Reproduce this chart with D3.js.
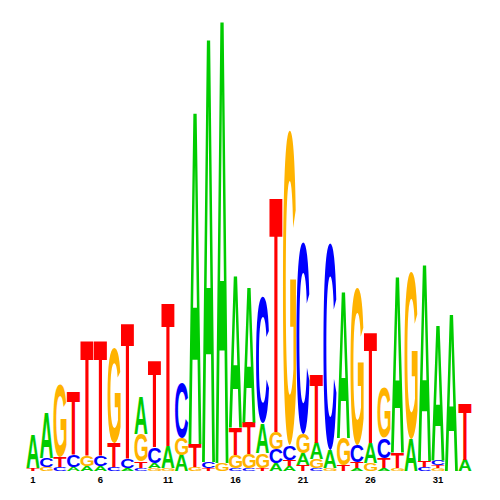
<!DOCTYPE html>
<html><head><meta charset="utf-8">
<script src="https://cdn.jsdelivr.net/npm/d3@7"></script>
<style>html,body{margin:0;padding:0;background:#fff;}</style>
</head><body>
<svg id="chart" width="500" height="500"></svg>
<script>
const positions = d3.range(1, 34);
// information content (bits) per base at each position
const A = [0.148,0.196,0,0.017,0.022,0.022,0,0.013,0.161,0.022,0.096,0.070,1.461,1.865,1.948,0.665,0.596,0.130,0.035,0.022,0.052,0.070,0.078,0.643,0.013,0.087,0.013,0.774,0.139,0.865,0.596,0.691,0.048];
const C = [0,0.039,0.017,0.052,0,0.048,0.017,0.039,0.013,0.070,0,0.239,0,0.026,0,0.013,0.013,0.548,0.061,0.065,0.835,0.013,0.900,0,0.074,0,0.087,0,0,0.017,0.022,0,0];
const G = [0,0.017,0.313,0,0.048,0,0.413,0,0.117,0.013,0.013,0.074,0.017,0,0.035,0.057,0.061,0.065,0.074,1.370,0.083,0.039,0.013,0.117,0.683,0.035,0.217,0.013,0.726,0,0.013,0,0];
const T = [0.013,0,0.043,0.274,0.500,0.500,0.104,0.591,0.030,0.378,0.626,0,0.100,0.013,0,0.117,0.139,0.013,1.030,0.026,0.026,0.300,0,0.026,0.026,0.483,0.043,0.065,0,0.026,0.013,0,0.248];
const tickLabels = ["1","6","11","16","21","26","31"];
const bases = ["A","C","G","T"];
const baseValues = {A, C, G, T};
const colors = {A:"#00cc00", C:"#0000ff", G:"#ffb300", T:"#ff0000"};

const svg = d3.select("#chart");
const x = d3.scaleBand().domain(positions).range([26.25, 471.75]).paddingInner(0.03).paddingOuter(0.015);
const y = d3.scaleLinear().domain([0, 2]).range([471, 11]);

const FONT = '"Liberation Sans", Arial, sans-serif';
const ctx = document.createElement("canvas").getContext("2d");
ctx.font = 'bold 100px "Liberation Sans"';
const metrics = {};
bases.forEach(b => {
  const m = ctx.measureText(b);
  metrics[b] = {left: m.actualBoundingBoxLeft, right: m.actualBoundingBoxRight,
                asc: m.actualBoundingBoxAscent, desc: m.actualBoundingBoxDescent};
});

const stacks = positions.map((p, i) => {
  const letters = bases.map(b => ({b, v: baseValues[b][i]})).filter(d => d.v > 0)
    .sort((a, b2) => a.v - b2.v);
  let cum = 0;
  letters.forEach(d => { d.y0 = cum; cum += d.v; d.y1 = cum; d.pos = p; });
  return letters;
});

const g = svg.append("g");
const w = x.bandwidth();
stacks.forEach(letters => {
  letters.forEach(d => {
    const m = metrics[d.b];
    const x0 = x(d.pos);
    const yb = y(d.y0);
    const h = y(d.y0) - y(d.y1);
    const sx = w / (m.left + m.right);
    const sy = h / (m.asc + m.desc);
    g.append("text")
      .text(d.b)
      .attr("font-family", FONT)
      .attr("font-weight", "bold")
      .attr("font-size", 100)
      .attr("fill", colors[d.b])
      .attr("transform", `translate(${x0 + m.left * sx},${yb - m.desc * sy}) scale(${sx},${sy})`);
  });
});

const xAxis = d3.axisBottom(x).tickValues(tickLabels.map(Number)).tickSize(0).tickPadding(0).tickFormat(d => String(d));
const ax = svg.append("g").attr("transform", "translate(0,476)").call(xAxis);
ax.select(".domain").remove();
ax.selectAll("text").attr("font-family", FONT).attr("font-weight", "bold").attr("font-size", 9.5).attr("fill", "#000");
</script>
</body></html>
